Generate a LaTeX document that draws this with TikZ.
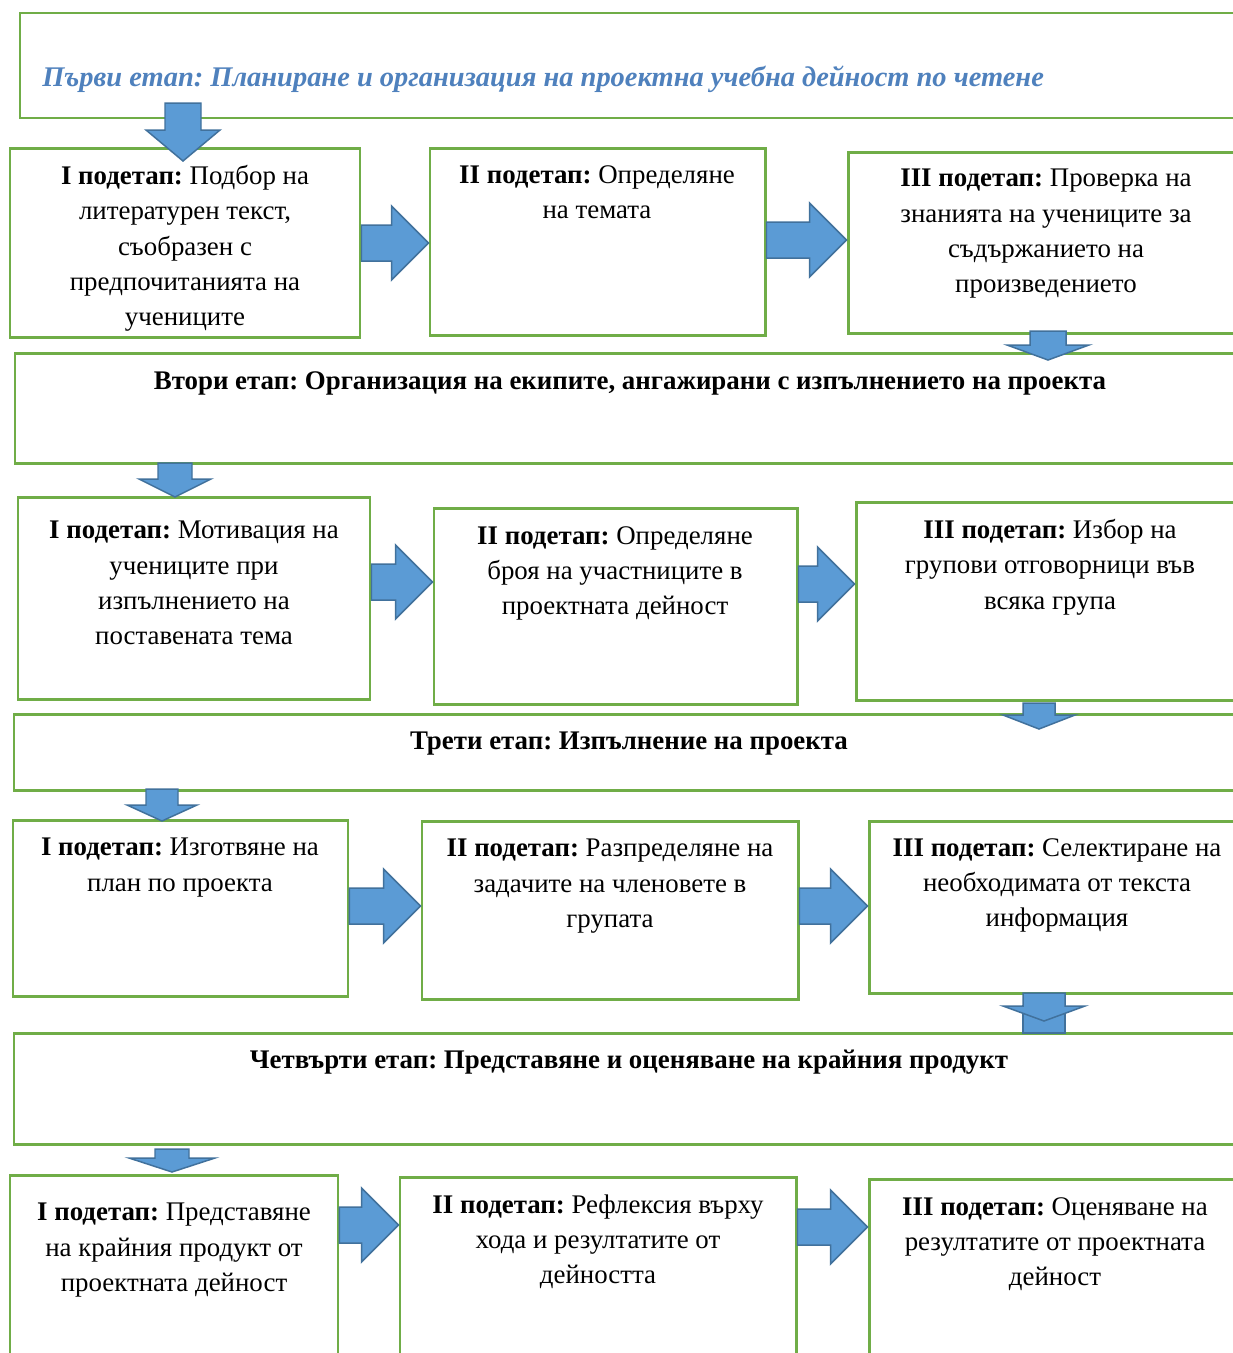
\documentclass[tikz,border=0pt]{standalone}
\usepackage{fontspec}
\setmainfont{Liberation Serif}
\frenchspacing
\usetikzlibrary{calc,fit}

\definecolor{boxgreen}{RGB}{112,173,71}
\definecolor{arrowfill}{RGB}{91,155,213}
\definecolor{arrowline}{RGB}{65,113,156}
\definecolor{titleblue}{RGB}{79,129,189}

% block arrow from the east side of one box to the west side of the next
\newcommand\hblock[3]{
        \coordinate (hs) at (#1.east |- 0,#3);
        \coordinate (ht) at (#2.west |- 0,#3);
        \draw [blockarrow] ($(hs)+(0,-18)$) -- ($(ht)+(-37,-18)$) -- ($(ht)+(-37,-37)$) -- (ht)
          -- ($(ht)+(-37,37)$) -- ($(ht)+(-37,18)$) -- ($(hs)+(0,18)$) -- cycle;
}
% block arrow pointing down: start, tip, head length, half shaft, half head
\newcommand\vblock[5]{
        \draw [blockarrow] ($(#1)+(-#4,0)$) -- ($(#2)+(-#4,-#3)$) -- ($(#2)+(-#5,-#3)$) -- (#2)
          -- ($(#2)+(#5,-#3)$) -- ($(#2)+(#4,-#3)$) -- ($(#1)+(#4,0)$) -- cycle;
}

\begin{document}
\begin{tikzpicture}[x=0.02cm, y=-0.02cm,
        box/.style={draw=boxgreen, line width=1.7pt, fill=white, inner sep=0pt},
        blockarrow/.style={draw=arrowline, fill=arrowfill, line width=0.85pt, line join=miter},
        stagetxt/.style={anchor=north, inner sep=0pt, font=\fontsize{15.3}{20.1}\selectfont\bfseries},
        steptxt/.style={anchor=north, inner sep=0pt, align=center, font=\fontsize{15.3}{20.1}\selectfont}
        ]
        \useasboundingbox (0,0) rectangle (1233,1353);
        \fill [white] (0,0) rectangle (1233,1353);
        \clip (0,0) rectangle (1233,1353);

        % stages and sub-stages
        \node [box, fit={(20,13) (1245,118)}] (stage1) {};
        \node [box, fit={(10,148) (360,337)}] (A1) {};
        \node [box, fit={(430,148) (765,335)}] (A2) {};
        \node [box, fit={(848,152) (1245,333)}] (A3) {};
        \node [box, fit={(15,353) (1245,463)}] (stage2) {};
        \node [box, fit={(18,497) (370,699)}] (B1) {};
        \node [box, fit={(434,508) (797,704)}] (B2) {};
        \node [box, fit={(856,502) (1245,700)}] (B3) {};
        \node [box, fit={(14,714) (1245,790)}] (stage3) {};
        \node [box, fit={(13,820) (348,996)}] (C1) {};
        \node [box, fit={(422,821) (798,999)}] (C2) {};
        \node [box, fit={(869,821) (1245,993)}] (C3) {};
        \node [box, fit={(14,1033) (1245,1144)}] (stage4) {};
        \node [box, fit={(10,1175) (338,1380)}] (D1) {};
        \node [box, fit={(400,1177) (796,1380)}] (D2) {};
        \node [box, fit={(869,1179) (1241,1380)}] (D3) {};

        % arrows
        \hblock{A1}{A2}{243}
        \hblock{A2}{A3}{240}
        \hblock{B1}{B2}{582}
        \hblock{B2}{B3}{584}
        \hblock{C1}{C2}{906}
        \hblock{C2}{C3}{906}
        \hblock{D1}{D2}{1225}
        \hblock{D2}{D3}{1227}
        \coordinate (d1s) at (183,103);  \coordinate (d1t) at (183,161);
        \coordinate (d2s) at (1048,331); \coordinate (d2t) at (1048,360);
        \coordinate (d3s) at (175,463);  \coordinate (d3t) at (175,497);
        \coordinate (d4s) at (1039,703); \coordinate (d4t) at (1039,729);
        \coordinate (d5s) at (162,789);  \coordinate (d5t) at (162,821);
        \coordinate (d6s) at (1044,993); \coordinate (d6t) at (1044,1021);
        \coordinate (d7s) at (172,1149); \coordinate (d7t) at (172,1172);
        \vblock{d1s}{d1t}{31}{18}{37}
        \vblock{d2s}{d2t}{15}{18}{41}
        \vblock{d3s}{d3t}{18}{17}{36}
        \vblock{d4s}{d4t}{14}{16}{36}
        \vblock{d5s}{d5t}{16}{16}{35}
        \draw [blockarrow] (1023,1006) rectangle (1065,1033);
        \vblock{d6s}{d6t}{15}{21}{41}
        \vblock{d7s}{d7t}{14}{17}{43}

        % texts
        \node [anchor=north west, inner sep=0pt, text=titleblue,
          font=\fontsize{16.2}{20.1}\selectfont\bfseries\itshape] (t1) at (42,66)
          {Първи етап: Планиране и организация на проектна учебна дейност по четене};
        \node [steptxt] (ta1) at (185,165) {\textbf{I подетап:} Подбор на\\литературен текст,\\съобразен с\\предпочитанията на\\учениците};
        \node [steptxt] (ta2) at (597,165) {\textbf{II подетап:} Определяне\\на темата};
        \node [steptxt] (ta3) at (1046,169) {\textbf{III подетап:} Проверка на\\знанията на учениците за\\съдържанието на\\произведението};
        \node [stagetxt] (t2) at (630,371) {Втори етап: Организация на екипите, ангажирани с изпълнението на проекта};
        \node [steptxt] (tb1) at (194,521) {\textbf{I подетап:} Мотивация на\\учениците при\\изпълнението на\\поставената тема};
        \node [steptxt] (tb2) at (615,526) {\textbf{II подетап:} Определяне\\броя на участниците в\\проектната дейност};
        \node [steptxt] (tb3) at (1050,519) {\textbf{III подетап:} Избор на\\групови отговорници във\\всяка група};
        \node [stagetxt] (t3) at (629,732) {Трети етап: Изпълнение на проекта};
        \node [steptxt] (tc1) at (180,838) {\textbf{I подетап:} Изготвяне на\\план по проекта};
        \node [steptxt] (tc2) at (610,839) {\textbf{II подетап:} Разпределяне на\\задачите на членовете в\\групата};
        \node [steptxt] (tc3) at (1057,838) {\textbf{III подетап:} Селектиране на\\необходимата от текста\\информация};
        \node [stagetxt] (t4) at (629,1050) {Четвърти етап: Представяне и оценяване на крайния продукт};
        \node [steptxt] (td1) at (174,1203) {\textbf{I подетап:} Представяне\\на крайния продукт от\\проектната дейност};
        \node [steptxt] (td2) at (598,1194) {\textbf{II подетап:} Рефлексия върху\\хода и резултатите от\\дейността};
        \node [steptxt] (td3) at (1055,1197) {\textbf{III подетап:} Оценяване на\\резултатите от проектната\\дейност};
\end{tikzpicture}
\end{document}
